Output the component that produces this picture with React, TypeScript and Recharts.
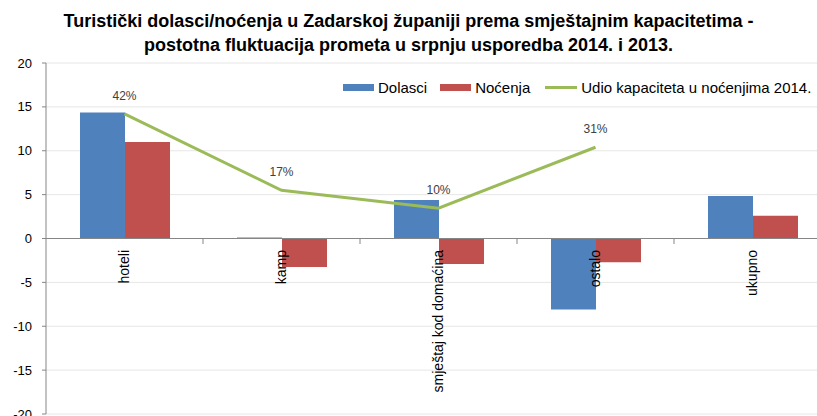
import React from "react";
import {
  ComposedChart,
  Bar,
  Line,
  XAxis,
  YAxis,
  CartesianGrid,
  ReferenceLine,
  LabelList,
} from "recharts";

const categories = ["hoteli", "kamp", "smještaj kod domaćina", "ostalo", "ukupno"];
const dolasci = [14.35, 0.1, 4.4, -8.1, 4.85];
const nocenja = [11.0, -3.25, -2.9, -2.7, 2.6];
const udio = [14.2, 5.5, 3.45, 10.4, null];
const udioLabels = ["42%", "17%", "10%", "31%", ""];
const yTicks = [-20, -15, -10, -5, 0, 5, 10, 15, 20];

const data = categories.map((name, i) => ({
  name,
  dolasci: dolasci[i],
  nocenja: nocenja[i],
  udio: udio[i],
}));

const BLUE = "#4F81BD";
const RED = "#C0504D";
const GREEN = "#9BBB59";
const FONT = "'Liberation Sans', Arial, sans-serif";

const CHART_W = 835;
const CHART_H = 420;
const TOP = 63;
const BOTTOM = 5;
const LEFT = 46;
const RIGHT = 4;
const PLOT_H = CHART_H - TOP - BOTTOM;
const PLOT_W = CHART_W - LEFT - RIGHT;
const Y_MIN = -20;
const Y_MAX = 20;
const zeroY = TOP + (PLOT_H * Y_MAX) / (Y_MAX - Y_MIN);
const band = PLOT_W / categories.length;

// category labels sit on the zero line, rotated like in Excel
function renderCategoryTick(props: any) {
  const { x, payload, index } = props;
  const ty = zeroY + 11;
  return (
    <g key={`cat-${index}`}>
      <text
        x={x}
        y={ty}
        transform={`rotate(-90, ${x}, ${ty})`}
        textAnchor="end"
        dy="0.35em"
        fontSize={14}
        fontFamily={FONT}
        fill="#000"
      >
        {payload.value}
      </text>
      {index < categories.length - 1 && (
        <line x1={x + band / 2} x2={x + band / 2} y1={zeroY} y2={zeroY + 5} stroke="#868686" />
      )}
    </g>
  );
}

function UdioLabel(props: any) {
  const { x, y, index } = props;
  if (!udioLabels[index]) return null;
  return (
    <text x={x} y={y - 18} textAnchor="middle" dy="0.35em" fontSize={12} fontFamily={FONT} fill="#404040">
      {udioLabels[index]}
    </text>
  );
}

function LegendBox() {
  const item = { display: "flex", alignItems: "center" } as const;
  const swatch = (c: string) => ({ width: 31, height: 7, background: c, marginRight: 4 });
  return (
    <div
      style={{
        position: "absolute",
        left: 343,
        top: 79,
        display: "flex",
        fontFamily: FONT,
        fontSize: 15,
        color: "#000",
      }}
    >
      <div style={{ ...item, marginRight: 13 }}>
        <div style={swatch(BLUE)} />
        Dolasci
      </div>
      <div style={{ ...item, marginRight: 15 }}>
        <div style={swatch(RED)} />
        Noćenja
      </div>
      <div style={item}>
        <div style={{ width: 32, height: 3, background: GREEN, marginRight: 4 }} />
        Udio kapaciteta u noćenjima 2014.
      </div>
    </div>
  );
}

export default function App() {
  return (
    <div
      style={{
        position: "fixed",
        left: 0,
        top: 0,
        width: 817,
        height: 416,
        overflow: "hidden",
        background: "#fff",
      }}
    >
      <div
        style={{
          position: "absolute",
          left: 0,
          width: 817,
          top: 9,
          textAlign: "center",
          fontFamily: FONT,
          fontWeight: "bold",
          fontSize: 18,
          lineHeight: "24px",
          color: "#000",
        }}
      >
        Turistički dolasci/noćenja u Zadarskoj županiji prema smještajnim kapacitetima -
        <br />
        postotna fluktuacija prometa u srpnju usporedba 2014. i 2013.
      </div>
      <LegendBox />
      <div style={{ position: "absolute", left: 0, top: 0 }}>
        <ComposedChart
          width={CHART_W}
          height={CHART_H}
          data={data}
          margin={{ top: TOP, right: RIGHT, bottom: BOTTOM, left: 0 }}
          barGap={0}
        >
          <CartesianGrid vertical={false} stroke="#e6e6e6" />
          <XAxis
            dataKey="name"
            height={1}
            axisLine={false}
            tickLine={false}
            tick={renderCategoryTick}
            interval={0}
          />
          <YAxis
            width={LEFT}
            domain={[Y_MIN, Y_MAX]}
            ticks={yTicks}
            interval={0}
            axisLine={{ stroke: "#868686" }}
            tickLine={{ stroke: "#868686" }}
            tickSize={4}
            tickMargin={10}
            tick={{ fill: "#000", fontSize: 13, fontFamily: FONT }}
          />
          <Bar dataKey="dolasci" fill={BLUE} barSize={45} isAnimationActive={false} />
          <Bar dataKey="nocenja" fill={RED} barSize={45} isAnimationActive={false} />
          <ReferenceLine y={0} stroke="#868686" />
          <Line
            dataKey="udio"
            stroke={GREEN}
            strokeWidth={3}
            dot={false}
            isAnimationActive={false}
          >
            <LabelList dataKey="udio" content={<UdioLabel />} />
          </Line>
        </ComposedChart>
      </div>
    </div>
  );
}
